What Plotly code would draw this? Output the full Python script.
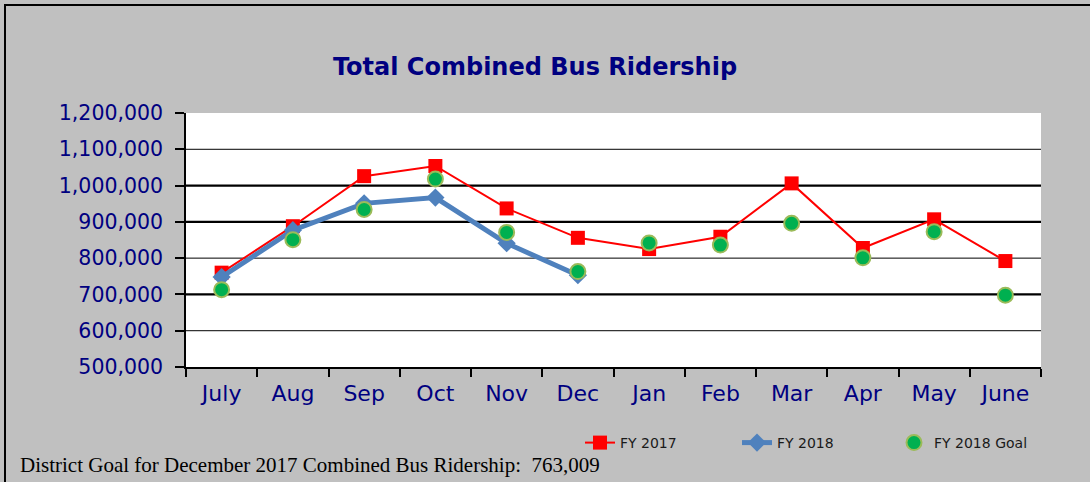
import plotly.graph_objects as go

# ---------------- data ----------------
months = ["July", "Aug", "Sep", "Oct", "Nov", "Dec", "Jan", "Feb", "Mar", "Apr", "May", "June"]
fy2017 = [760000, 888000, 1026000, 1054000, 937000, 856000, 825000, 859000, 1006000, 828000, 907000, 792000]
fy2018 = [748000, 877000, 951000, 967000, 841000, 753000]
fy2018_goal = [713000, 851000, 934000, 1018000, 871000, 763009, 842000, 836000, 896000, 801000, 873000, 698000]
y_ticks = [500000, 600000, 700000, 800000, 900000, 1000000, 1100000, 1200000]
title_text = "Total Combined Bus Ridership"
footer_text = "District Goal for December 2017 Combined Bus Ridership:  763,009"

# ---------------- styles ----------------
NAVY = "#000080"
grid_widths = {600000: 1, 700000: 2.2, 800000: 1, 900000: 2.2, 1000000: 2.2, 1100000: 1}

fig = go.Figure()
fig.add_trace(go.Scatter(
    x=months, y=fy2017, name="FY 2017", mode="lines+markers",
    line=dict(color="#FF0000", width=2),
    marker=dict(symbol="square", size=14, color="#FF0000"),
))
fig.add_trace(go.Scatter(
    x=months[:len(fy2018)], y=fy2018, name="FY 2018", mode="lines+markers",
    line=dict(color="#4F81BD", width=5),
    marker=dict(symbol="diamond", size=14, color="#4F81BD"),
))
fig.add_trace(go.Scatter(
    x=months, y=fy2018_goal, name="FY 2018 Goal", mode="markers",
    marker=dict(symbol="circle", size=15, color="#00B050",
                line=dict(color="#9BBB59", width=2)),
))

# horizontal gridlines (varying weights as in reference)
for val, w in grid_widths.items():
    fig.add_shape(type="line", xref="paper", yref="y", x0=0, x1=1, y0=val, y1=val,
                  line=dict(color="black", width=w), layer="below")

# outer frame
fig.add_shape(type="rect", xref="paper", yref="paper",
              x0=(5 - 186) / 855, x1=1.2, y0=-0.6, y1=(367 - 5) / 254,
              line=dict(color="black", width=2), fillcolor="rgba(0,0,0,0)", layer="above")

fig.add_annotation(
    text=footer_text, xref="paper", yref="paper",
    x=(18 - 186) / 855, y=(367 - 465) / 254, xanchor="left", yanchor="middle",
    showarrow=False, font=dict(family="Liberation Serif", size=21, color="black"),
)

fig.update_layout(
    width=1090, height=482,
    margin=dict(l=186, r=49, t=113, b=115, autoexpand=False),
    paper_bgcolor="#C0C0C0", plot_bgcolor="white",
    title=dict(text="<b>" + title_text + "</b>", xref="container", yref="container",
               x=535 / 1090, y=1 - 67 / 482, xanchor="center", yanchor="middle",
               font=dict(family="DejaVu Sans", size=24, color=NAVY)),
    showlegend=True,
    legend=dict(orientation="h", x=(580 - 186) / 855, y=(367 - 443) / 254,
                xanchor="left", yanchor="middle", bgcolor="rgba(0,0,0,0)",
                font=dict(family="DejaVu Sans", size=14, color="#1a1a1a"),
                entrywidth=112, entrywidthmode="pixels", traceorder="normal"),
    xaxis=dict(
        type="category", categoryorder="array", categoryarray=months,
        range=[-0.5, 11.5], showgrid=False, zeroline=False,
        showline=True, linecolor="black", linewidth=1.5,
        ticks="outside", tickson="boundaries", ticklen=8, tickcolor="black", tickwidth=1.5,
        tickangle=0, ticklabelstandoff=6,
        tickfont=dict(family="DejaVu Sans", size=22, color=NAVY),
    ),
    yaxis=dict(
        range=[500000, 1200000], tickvals=y_ticks, tickformat=",",
        showgrid=False, zeroline=False,
        showline=True, linecolor="black", linewidth=1.5,
        ticks="outside", ticklen=9, tickcolor="black", tickwidth=1.5,
        ticklabelstandoff=8,
        tickfont=dict(family="DejaVu Sans", size=20.5, color=NAVY),
    ),
)

fig.write_html("out.html", config={"displayModeBar": False},
               post_script="document.body.style.margin='0';document.body.style.overflow='hidden';")
